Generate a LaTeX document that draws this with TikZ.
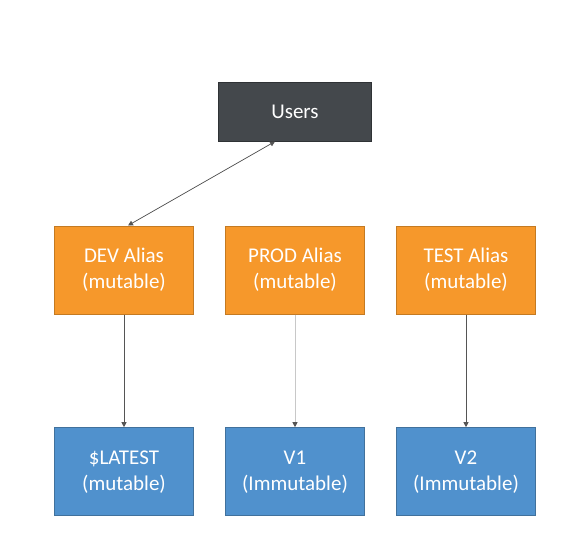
\documentclass[tikz,border=0pt]{standalone}
\usepackage{fontspec}
\setmainfont{Carlito}
\usepackage{tikz}
\usetikzlibrary{positioning,arrows.meta,shapes}

\definecolor{usersgray}{HTML}{44484C}
\definecolor{usersedge}{HTML}{2F3235}
\definecolor{aliasorange}{HTML}{F6982B}
\definecolor{aliasedge}{HTML}{C47A22}
\definecolor{versionblue}{HTML}{5091CD}
\definecolor{versionedge}{HTML}{41719C}
\definecolor{linkgray}{HTML}{555555}
\definecolor{lightlink}{HTML}{C8C8C8}

\begin{document}
\begin{tikzpicture}[x=1pt,y=1pt]
    % Define styles
    \tikzstyle{alias} = [rectangle, draw=aliasedge, line width=1pt, fill=aliasorange, text=white, minimum width=139pt, minimum height=88pt, align=center, font=\fontsize{21}{26}\selectfont]
    \tikzstyle{version} = [rectangle, draw=versionedge, line width=1pt, fill=versionblue, text=white, minimum width=139pt, minimum height=88pt, align=center, font=\fontsize{21}{26}\selectfont]
    \tikzstyle{users} = [rectangle, draw=usersedge, line width=1pt, fill=usersgray, text=white, minimum width=153pt, minimum height=59pt, align=center, font=\fontsize{21}{26}\selectfont]
    \tikzstyle{arrow} = [line width=0.75pt, draw=linkgray, -{Triangle[length=5pt,width=5pt]}]

    \useasboundingbox (0,0) rectangle (575,-550);

    % Aliases
    \node[alias] (dev) at (124,-270) {DEV Alias\\(mutable)};
    \node[alias, right=31pt of dev] (prod) {PROD Alias\\(mutable)};
    \node[alias, right=31pt of prod] (test) {TEST Alias\\(mutable)};

    % Users
    \node[users, above=84pt of prod] (users) {Users};

    % Versions
    \node[version, below=112.7pt of dev] (latest) {\$LATEST\\(mutable)};
    \node[version, below=112.7pt of prod] (v1) {V1\\(Immutable)};
    \node[version, below=112.7pt of test] (v2) {V2\\(Immutable)};

    % Arrows
    \draw[arrow, {Triangle[length=5pt,width=5pt]}-{Triangle[length=5pt,width=5pt]}] ([xshift=-20pt]users.south) -- ([xshift=4pt]dev.north);
    \draw[arrow] (dev) -- (latest);
    \draw[arrow, draw=lightlink, -{Triangle[length=5pt,width=5pt,color=linkgray]}] (prod) -- (v1);
    \draw[arrow] (test) -- (v2);

\end{tikzpicture}
\end{document}
